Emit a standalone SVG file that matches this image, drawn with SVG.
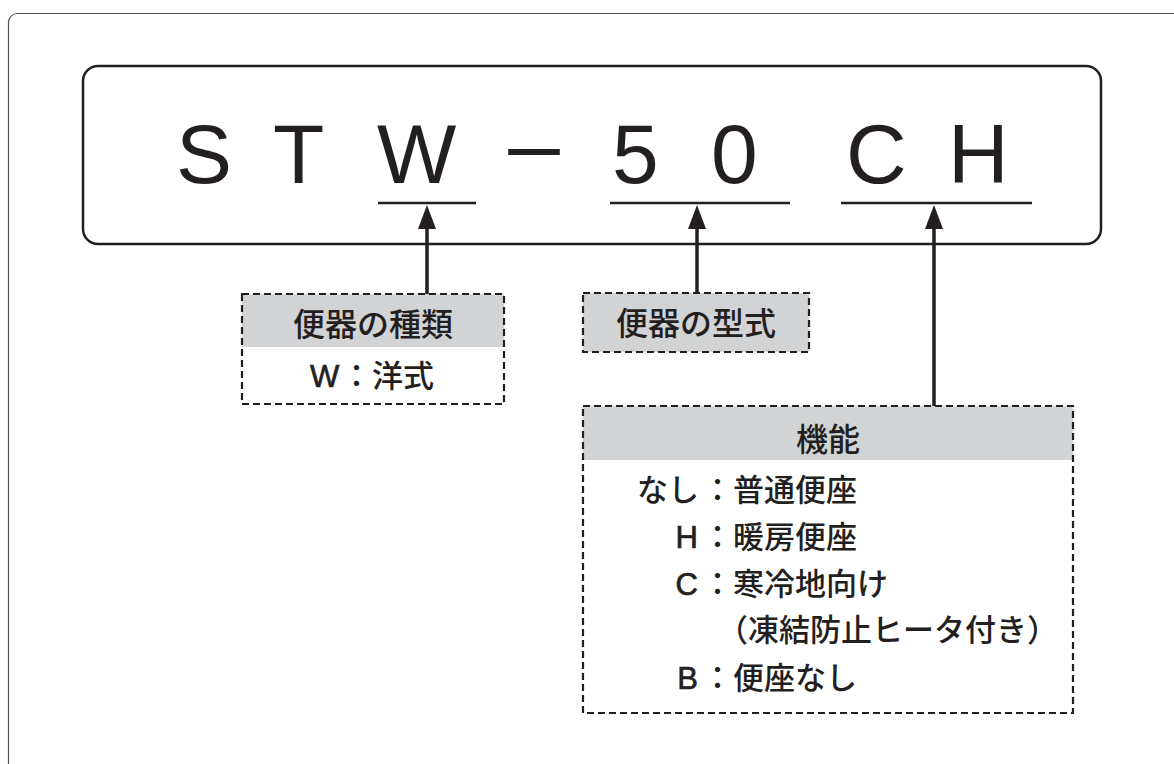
<svg xmlns="http://www.w3.org/2000/svg" width="1174" height="764" viewBox="0 0 1174 764">
<style>
.jp{font-family:"Noto Sans CJK JP","Noto Sans",sans-serif;font-weight:500;fill:#231f20}
.lat{font-family:"Liberation Sans","Noto Sans CJK JP",sans-serif;font-size:31px;fill:#231f20;stroke:#231f20;stroke-width:0.7}
.h{font-size:32px}
.b{font-size:31px}
.big{font-family:"Liberation Sans","DejaVu Sans",sans-serif;font-size:84px;fill:#231f20}
.dash{fill:none;stroke:#231f20;stroke-width:2.2;stroke-dasharray:7 4}
.gray{fill:#d2d3d5}
.ul{stroke:#231f20;stroke-width:2.5}
.conn{stroke:#231f20;stroke-width:3.5;fill:none;marker-end:url(#arr)}
</style>
<defs>
<marker id="arr" viewBox="0 0 24 18" refX="14" refY="9" markerWidth="24" markerHeight="18" markerUnits="userSpaceOnUse" orient="auto">
<path d="M0,0 L24,9 L0,18 z" fill="#231f20"/>
</marker>
</defs>
<rect x="0" y="0" width="1174" height="764" fill="#ffffff"/>
<rect x="8.5" y="13.5" width="1185" height="775" rx="9" fill="none" stroke="#555555" stroke-width="1.2"/>

<g id="code">
<rect x="83" y="66" width="1018" height="178" rx="15" fill="#ffffff" stroke="#231f20" stroke-width="2.5"/>
<text class="big" y="183"><tspan x="176">S</tspan><tspan x="273">T</tspan><tspan x="377">W</tspan><tspan x="503" dy="-3" textLength="62" lengthAdjust="spacingAndGlyphs">−</tspan><tspan x="612" dy="3">5</tspan><tspan x="711">0</tspan><tspan x="846">C</tspan><tspan x="948">H</tspan></text>
<line class="ul" x1="378" y1="203" x2="476" y2="203"/>
<line class="ul" x1="610" y1="203" x2="790" y2="203"/>
<line class="ul" x1="841" y1="203" x2="1032" y2="203"/>
</g>

<g id="connectors">
<path class="conn" d="M427 294 L427 215"/>
<path class="conn" d="M697 293 L697 215"/>
<path class="conn" d="M934 406 L934 215"/>
</g>

<g id="type">
<rect class="gray" x="242" y="294" width="262" height="53"/>
<rect class="dash" x="242" y="294" width="262" height="110"/>
<text class="jp h" x="373" y="336" text-anchor="middle">便器の種類</text>
<text y="387"><tspan class="lat" x="310">W</tspan><tspan class="jp b" x="341">：洋式</tspan></text>
</g>

<g id="model">
<rect class="dash" x="583" y="293" width="226" height="59" style="fill:#d2d3d5"/>
<text class="jp h" x="696" y="335" text-anchor="middle">便器の型式</text>
</g>

<g id="function">
<rect class="gray" x="583" y="406" width="490" height="54"/>
<rect class="dash" x="583" y="406" width="490" height="307"/>
<text class="jp h" x="828" y="451" text-anchor="middle">機能</text>
<text class="jp b" x="637" y="501">なし</text>
<text class="jp b" x="702" y="501">：普通便座</text>
<text class="lat" x="698" y="548" text-anchor="end">H</text>
<text class="jp b" x="702" y="548">：暖房便座</text>
<text class="lat" x="698" y="595" text-anchor="end">C</text>
<text class="jp b" x="702" y="595">：寒冷地向け</text>
<text class="jp b" x="717" y="641">（凍結防止ヒータ付き）</text>
<text class="lat" x="698" y="689" text-anchor="end">B</text>
<text class="jp b" x="702" y="689">：便座なし</text>
</g>
</svg>
